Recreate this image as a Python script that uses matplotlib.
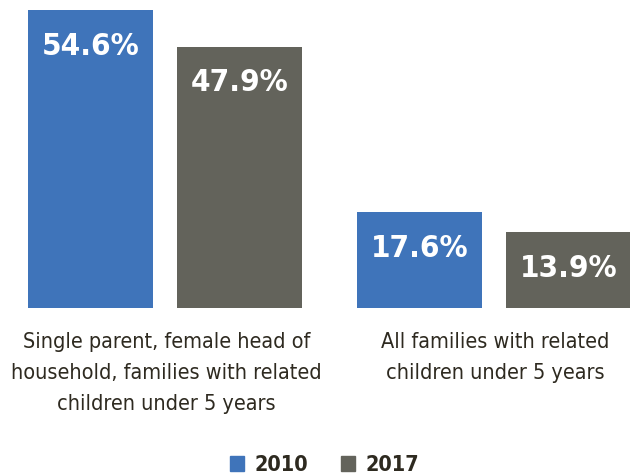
import matplotlib.pyplot as plt
from matplotlib.patches import Patch
import numpy as np

# === Data ===
categories = ["Single parent, female head of\nhousehold, families with related\nchildren under 5 years",
              "All families with related\nchildren under 5 years"]
years = ["2010", "2017"]
values_2010 = [54.6, 17.6]
values_2017 = [47.9, 13.9]

blue = "#3F74BA"
gray = "#63635B"
txt = "#2E2A20"
fam = ["DejaVu Sans"]

fig = plt.figure(figsize=(6.3, 4.76), dpi=100)
ax = fig.add_axes([0, 168 / 476, 1, 308 / 476])

x = np.arange(len(categories))
w = 0.38
off = 0.2264
b1 = ax.bar(x - off, values_2010, w, color=blue)
b2 = ax.bar(x + off, values_2017, w, color=gray)

for bars, vals in [(b1, values_2010), (b2, values_2017)]:
    for b, v in zip(bars, vals):
        ax.annotate(f"{v}%", (b.get_x() + b.get_width() / 2, v),
                    xytext=(0, -26), textcoords="offset points",
                    ha="center", va="center", color="white",
                    fontsize=22.5, fontweight="bold", family=fam,
                    fontstretch="condensed")

ax.set_xlim(-165 / 329, 465 / 329)
ax.set_ylim(0, 308 / 5.458)
ax.axis("off")

# category labels under the bars
for xi, lab in zip(x, categories):
    ax.annotate(lab, (xi, 0), xytext=(1, -17), textcoords="offset points",
                ha="center", va="top", fontsize=15.5, color=txt,
                linespacing=1.7, family=fam, fontstretch="condensed")

handles = [Patch(color=blue), Patch(color=gray)]
leg = fig.legend(handles, years, loc="center", bbox_to_anchor=(0.515, 11 / 476),
                 ncol=2, frameon=False, handlelength=0.65, handleheight=0.65,
                 handletextpad=0.5, columnspacing=1.5,
                 prop={"family": fam, "weight": "bold", "size": 15.5,
                       "stretch": "condensed"})
for t in leg.get_texts():
    t.set_color(txt)

plt.savefig("out.png", dpi=100)
